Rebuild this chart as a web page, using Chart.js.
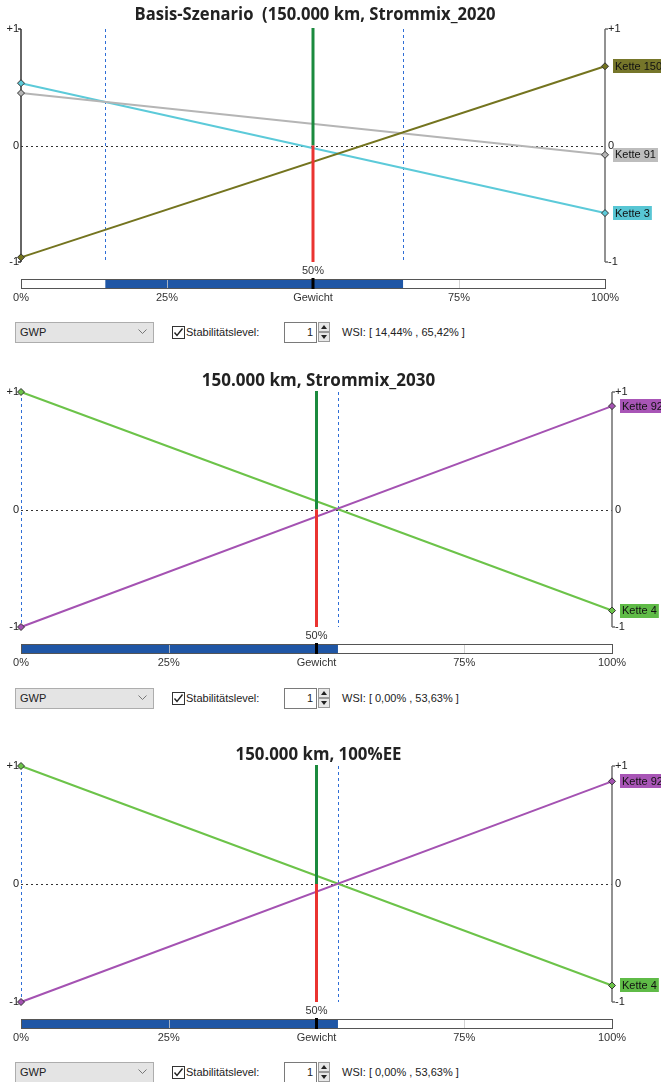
<!DOCTYPE html>
<html>
<head>
<meta charset="utf-8">
<script src="https://cdn.jsdelivr.net/npm/chart.js@4.4.1/dist/chart.umd.min.js"></script>
<style>
  body { margin: 0; background: #fff; width: 661px; height: 1082px; overflow: hidden; position: relative; font-family: "Liberation Sans", Arial, sans-serif; }
  .panel { position: absolute; left: 0; width: 661px; height: 342px; }
  .panel canvas { position: absolute; left: 0; top: 0; }
  .ctrl { position: absolute; left: 0; top: 322px; width: 661px; height: 21px; font-size: 11px; color: #222; }
  .combo { position: absolute; left: 15px; top: 0; width: 137px; height: 19px; background: #e4e4e4; border: 1px solid #adadad; }
  .combo span { position: absolute; left: 4px; top: 3px; }
  .combo svg { position: absolute; right: 6px; top: 6px; }
  .chk { position: absolute; left: 172px; top: 4px; }
  .chklabel { position: absolute; left: 186px; top: 4px; }
  .spin { position: absolute; left: 284px; top: 0; width: 31px; height: 19px; background: #fff; border: 1px solid #7a7a7a; }
  .spin span { position: absolute; right: 3px; top: 3px; }
  .btn { position: absolute; left: 318px; width: 10px; height: 8px; background: #e8e8e8; border: 1px solid #9a9a9a; }
  .btn svg { position: absolute; left: 2px; top: 2px; }
  .wsi { position: absolute; left: 342px; top: 4px; }
</style>
</head>
<body>
<script>
// Gewicht axis (%), y range of the normalised score
const weightAxis = [0, 100]
const yTickValues = [1, 0, -1]
const yTickLabels = ['+1', '0', '-1']
const weightTickValues = [0, 25, 50, 75, 100]
const weightTickLabels = ['0%', '25%', 'Gewicht', '75%', '100%']
const currentWeight = 50
const currentWeightLabel = '50%'

const titles = [
    'Basis-Szenario  (150.000 km, Strommix_2020',
    '150.000 km, Strommix_2030',
    '150.000 km, 100%EE'
]

// Panel 1 - Strommix_2020
const p1Names = ['Kette 150', 'Kette 91', 'Kette 3']
const p1Kette150 = [-0.96, 0.68]
const p1Kette91 = [0.45, -0.08]
const p1Kette3 = [0.535, -0.58]
const p1Wsi = [14.44, 65.42]

// Panel 2 - Strommix_2030
const p2Names = ['Kette 92', 'Kette 4']
const p2Kette92 = [-1, 0.88]
const p2Kette4 = [1, -0.86]
const p2Wsi = [0.00, 53.63]

// Panel 3 - 100%EE
const p3Names = ['Kette 92', 'Kette 4']
const p3Kette92 = [-1, 0.87]
const p3Kette4 = [1, -0.86]
const p3Wsi = [0.00, 53.63]

const panels = [
    {
        title: titles[0], titleWidth: 361, top: 0,
        names: p1Names, values: [p1Kette150, p1Kette91, p1Kette3], wsi: p1Wsi,
        colors: ['#74741f', '#b5b5b5', '#5ccad9'],
        boxColors: ['#76762a', '#bdbdbd', '#58c6d4'],
        padding: { left: 21, right: 56, top: 29, bottom: 48 }
    },
    {
        title: titles[1], titleWidth: 237, top: 366,
        names: p2Names, values: [p2Kette92, p2Kette4], wsi: p2Wsi,
        colors: ['#a452b2', '#6cc349'],
        boxColors: ['#a855b6', '#5fbb47'],
        padding: { left: 21, right: 49, top: 26, bottom: 49 }
    },
    {
        title: titles[2], titleWidth: 166, top: 740,
        names: p3Names, values: [p3Kette92, p3Kette4], wsi: p3Wsi,
        colors: ['#a452b2', '#6cc349'],
        boxColors: ['#a855b6', '#5fbb47'],
        padding: { left: 21, right: 49, top: 26, bottom: 48 }
    }
]

const smallFont = '11px "Liberation Sans", Arial, sans-serif'

function seg(ctx, x1, y1, x2, y2) {
    ctx.beginPath()
    ctx.moveTo(x1, y1)
    ctx.lineTo(x2, y2)
    ctx.stroke()
}

function fmtPct(v) {
    return v.toFixed(2).replace('.', ',') + '%'
}

// zero line, WSI limits, axes, weight slider, labels and title
const decor = {
    id: 'decor',
    beforeDatasetsDraw(chart, args, opts) {
        const { ctx, scales: { x, y } } = chart
        const xl = x.getPixelForValue(weightAxis[0])
        const xr = x.getPixelForValue(weightAxis[1])
        const yt = y.getPixelForValue(1)
        const yb = y.getPixelForValue(-1)
        const y0 = Math.round(y.getPixelForValue(0)) + 0.5
        ctx.save()
        ctx.lineWidth = 1
        ctx.strokeStyle = '#333'
        ctx.setLineDash([2, 3])
        seg(ctx, xl, y0, xr, y0)

        ctx.strokeStyle = '#2f6ed6'
        ctx.setLineDash([3, 3])
        opts.wsi.forEach(w => {
            const px = Math.round(x.getPixelForValue(w)) + 0.5
            seg(ctx, px, yt, px, yb)
        })
        ctx.setLineDash([])

        // left axis is hidden behind the WSI line when the interval starts at 0%
        if (opts.wsi[0] > 0) {
            ctx.strokeStyle = '#333'
            ctx.lineWidth = 1.5
            seg(ctx, xl, yt, xl, yb)
            seg(ctx, xl - 3, yt, xl, yt)
            seg(ctx, xl - 3, yb, xl, yb)
        }
        ctx.strokeStyle = '#6e6e6e'
        ctx.lineWidth = 1.5
        seg(ctx, xr, yt, xr, yb)
        seg(ctx, xr, yt, xr + 3, yt)
        seg(ctx, xr, yb, xr + 3, yb)

        ctx.font = smallFont
        ctx.fillStyle = '#222'
        ctx.textBaseline = 'middle'
        yTickValues.forEach((v, i) => {
            const py = y.getPixelForValue(v)
            ctx.textAlign = 'right'
            ctx.fillText(yTickLabels[i], xl - 2, py)
            ctx.textAlign = 'left'
            ctx.fillText(yTickLabels[i], xr + 3, py)
        })
        ctx.restore()
    },
    afterDatasetsDraw(chart, args, opts) {
        const { ctx, chartArea: a, scales: { x, y } } = chart
        const xl = x.getPixelForValue(weightAxis[0])
        const xr = x.getPixelForValue(weightAxis[1])
        const yt = y.getPixelForValue(1)
        const yb = y.getPixelForValue(-1)
        const y0 = y.getPixelForValue(0)
        const xw = x.getPixelForValue(currentWeight)
        ctx.save()

        // current weight line
        ctx.lineWidth = 3
        ctx.strokeStyle = '#1b8a3e'
        seg(ctx, xw, yt - 1, xw, y0)
        ctx.strokeStyle = '#ea3431'
        seg(ctx, xw, y0, xw, yb)

        // series labels at the right axis
        ctx.font = smallFont
        ctx.textBaseline = 'middle'
        ctx.textAlign = 'left'
        chart.data.datasets.forEach((ds, i) => {
            const pt = chart.getDatasetMeta(i).data[1]
            const w = ctx.measureText(ds.label).width
            ctx.fillStyle = opts.boxColors[i]
            ctx.fillRect(xr + 8, Math.round(pt.y) - 7, w + 4, 14)
            ctx.fillStyle = '#111'
            ctx.fillText(ds.label, xr + 10, pt.y + 0.5)
        })

        // weight slider with WSI range
        const barTop = a.bottom + 17
        const barH = 9
        ctx.fillStyle = '#fff'
        ctx.fillRect(xl, barTop, xr - xl, barH)
        const w0 = x.getPixelForValue(opts.wsi[0])
        const w1 = x.getPixelForValue(opts.wsi[1])
        ctx.fillStyle = '#1f56a5'
        ctx.fillRect(w0, barTop, w1 - w0, barH)
        ctx.strokeStyle = 'rgba(200,200,200,0.8)'
        ctx.lineWidth = 1
        ;[25, 75].forEach(v => {
            const px = Math.round(x.getPixelForValue(v)) + 0.5
            seg(ctx, px, barTop, px, barTop + barH)
        })
        ctx.strokeStyle = '#555'
        ctx.strokeRect(Math.round(xl) + 0.5, barTop + 0.5, Math.round(xr - xl), barH)
        ctx.strokeStyle = '#000'
        ctx.lineWidth = 3
        seg(ctx, xw, barTop - 1, xw, barTop + barH + 1)

        ctx.fillStyle = '#333'
        ctx.textAlign = 'center'
        ctx.fillText(currentWeightLabel, xw, barTop - 8)
        weightTickValues.forEach((v, i) => {
            ctx.fillText(weightTickLabels[i], x.getPixelForValue(v), barTop + barH + 10)
        })

        // title
        ctx.font = 'bold 17px "Open Sans", "Noto Sans", sans-serif'
        ctx.fillStyle = '#222'
        ctx.fillText(opts.title, (xl + xr) / 2 + 2, 15, opts.titleWidth)
        ctx.restore()
    }
}

function controlsHtml(wsi) {
    return '<div class="ctrl">' +
        '<div class="combo"><span>GWP</span><svg width="9" height="6"><path d="M0.5 0.5 L4.5 4.5 L8.5 0.5" fill="none" stroke="#777"/></svg></div>' +
        '<svg class="chk" width="13" height="13"><rect x="0.5" y="0.5" width="12" height="12" fill="#fff" stroke="#333"/><path d="M2.5 6.5 L5 9.5 L10.5 2.5" fill="none" stroke="#222" stroke-width="1.4"/></svg>' +
        '<span class="chklabel">Stabilitätslevel:</span>' +
        '<div class="spin"><span>1</span></div>' +
        '<div class="btn" style="top:0"><svg width="6" height="4"><path d="M0 4 L3 0 L6 4 Z" fill="#222"/></svg></div>' +
        '<div class="btn" style="top:10px"><svg width="6" height="4"><path d="M0 0 L3 4 L6 0 Z" fill="#222"/></svg></div>' +
        '<span class="wsi">WSI: [ ' + fmtPct(wsi[0]) + ' , ' + fmtPct(wsi[1]) + ' ]</span>' +
        '</div>'
}

panels.forEach(p => {
    const div = document.createElement('div')
    div.className = 'panel'
    div.style.top = p.top + 'px'
    div.innerHTML = '<canvas width="661" height="310"></canvas>' + controlsHtml(p.wsi)
    document.body.appendChild(div)
    const ctx = div.querySelector('canvas').getContext('2d')

    new Chart(ctx, {
        type: 'line',
        data: {
            datasets: p.names.map((name, i) => ({
                label: name,
                data: weightAxis.map((w, k) => ({ x: w, y: p.values[i][k] })),
                borderColor: p.colors[i],
                backgroundColor: p.colors[i],
                borderWidth: 2,
                pointStyle: 'rectRot',
                pointRadius: 3.5,
                pointBackgroundColor: p.colors[i],
                pointBorderColor: '#333',
                pointBorderWidth: 1,
                clip: false
            }))
        },
        options: {
            responsive: false,
            animation: false,
            devicePixelRatio: 1,
            layout: { padding: p.padding },
            scales: {
                x: { type: 'linear', min: 0, max: 100, display: false },
                y: { type: 'linear', min: -1, max: 1, display: false }
            },
            plugins: {
                legend: { display: false },
                title: { display: false },
                tooltip: { enabled: false },
                decor: { wsi: p.wsi, boxColors: p.boxColors, title: p.title, titleWidth: p.titleWidth }
            }
        },
        plugins: [decor]
    })
})
</script>
</body>
</html>
